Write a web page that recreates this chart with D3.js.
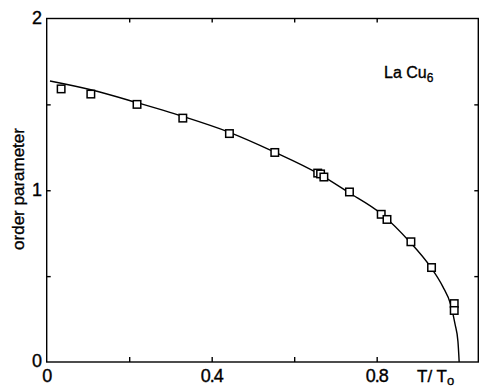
<!DOCTYPE html>
<html>
<head>
<meta charset="utf-8">
<script src="https://cdn.jsdelivr.net/npm/d3@7"></script>
<style>
  body { margin: 0; background: #fff; }
  svg { display: block; font-family: "Liberation Sans", Arial, sans-serif; }
  svg text { stroke: #000; stroke-width: 0.35; }
</style>
</head>
<body>
<div id="chart"></div>
<script>
// measured points (T/To, order parameter)
const measT = [0.035, 0.107, 0.219, 0.330, 0.443, 0.553, 0.657, 0.664, 0.672, 0.734, 0.811, 0.825, 0.883, 0.933, 0.988, 0.988];
const measOP = [1.59, 1.56, 1.50, 1.42, 1.33, 1.22, 1.10, 1.095, 1.077, 0.99, 0.86, 0.83, 0.70, 0.55, 0.34, 0.30];

// fitted curve
const curveT = [0.008, 0.107, 0.219, 0.330, 0.440, 0.550, 0.660, 0.730, 0.810, 0.880, 0.930, 0.960, 0.980, 0.990, 0.997, 1.0];
const curveOP = [1.636, 1.585, 1.51, 1.43, 1.34, 1.225, 1.095, 0.99, 0.865, 0.70, 0.555, 0.44, 0.33, 0.22, 0.12, 0.0];

const xTicks = [0.2, 0.4, 0.6, 0.8];
const xTickLabels = ['0', '0.4', '0.8'];
const yTicks = [0.5, 1, 1.5];
const yTickLabels = ['0', '1', '2'];

const W = 480, H = 390;
const svg = d3.select('#chart').append('svg')
    .attr('width', W)
    .attr('height', H);

const x = d3.scaleLinear().domain([0, 1.05]).range([46.7, 479.8]);
const y = d3.scaleLinear().domain([0, 2]).range([362, 18.5]);

// frame
svg.append('rect')
    .attr('x', x(0))
    .attr('y', y(2))
    .attr('width', x(1.05) - x(0) - 1.5)
    .attr('height', y(0) - y(2))
    .attr('fill', 'none')
    .attr('stroke', '#000')
    .attr('stroke-width', 1.4);

// ticks (inward) on all four sides
const tickStyle = g => {
    g.select('.domain').remove();
    g.selectAll('.tick line').attr('stroke', '#000').attr('stroke-width', 1.4);
    g.selectAll('.tick text').remove();
};
svg.append('g').attr('transform', `translate(0,${y(0)})`)
    .call(d3.axisBottom(x).tickValues(xTicks).tickSize(-5)).call(tickStyle);
svg.append('g').attr('transform', `translate(0,${y(2)})`)
    .call(d3.axisTop(x).tickValues(xTicks).tickSize(-4)).call(tickStyle);
svg.append('g').attr('transform', `translate(${x(0)},0)`)
    .call(d3.axisLeft(y).tickValues(yTicks).tickSize(-4)).call(tickStyle);
svg.append('g').attr('transform', `translate(${x(1.05) - 1.5},0)`)
    .call(d3.axisRight(y).tickValues(yTicks).tickSize(-4)).call(tickStyle);

// tick labels
svg.selectAll('.xlab')
    .data(xTickLabels)
    .enter().append('text')
    .attr('x', d => x(+d))
    .attr('y', 382)
    .attr('text-anchor', 'middle')
    .attr('font-size', 18)
    .attr('letter-spacing', -1)
    .text(d => d);

svg.selectAll('.ylab')
    .data(yTickLabels)
    .enter().append('text')
    .attr('x', 42)
    .attr('y', d => y(+d) - 1)
    .attr('dy', '0.35em')
    .attr('text-anchor', 'end')
    .attr('font-size', 18)
    .text(d => d);

// axis titles
const xt = svg.append('text')
    .attr('x', 417)
    .attr('y', 382)
    .attr('font-size', 17);
xt.append('tspan').text('T/ T');
xt.append('tspan').attr('dy', 3).attr('font-size', 13).text('o');

svg.append('text')
    .attr('transform', `translate(24,${189}) rotate(-90)`)
    .attr('text-anchor', 'middle')
    .attr('font-size', 17)
    .text('order parameter');

const lab = svg.append('text')
    .attr('x', 384)
    .attr('y', 78)
    .attr('font-size', 16);
lab.append('tspan').text('La Cu');
lab.append('tspan').attr('dy', 4).attr('font-size', 12).text('6');

// curve
const curvePts = curveT.map((t, i) => [t, curveOP[i]]);
svg.append('path')
    .datum(curvePts)
    .attr('fill', 'none')
    .attr('stroke', '#000')
    .attr('stroke-width', 1.4)
    .attr('d', d3.line().x(d => x(d[0])).y(d => y(d[1])).curve(d3.curveMonotoneX));

// squares
const pts = measT.map((t, i) => ({ t: t, v: measOP[i] }));
const s = 7.5;
svg.selectAll('.pt')
    .data(pts)
    .enter().append('rect')
    .attr('x', d => x(d.t) - s / 2)
    .attr('y', d => y(d.v) - s / 2)
    .attr('width', s)
    .attr('height', s)
    .attr('fill', '#fff')
    .attr('stroke', '#000')
    .attr('stroke-width', 1.5);
</script>
</body>
</html>
